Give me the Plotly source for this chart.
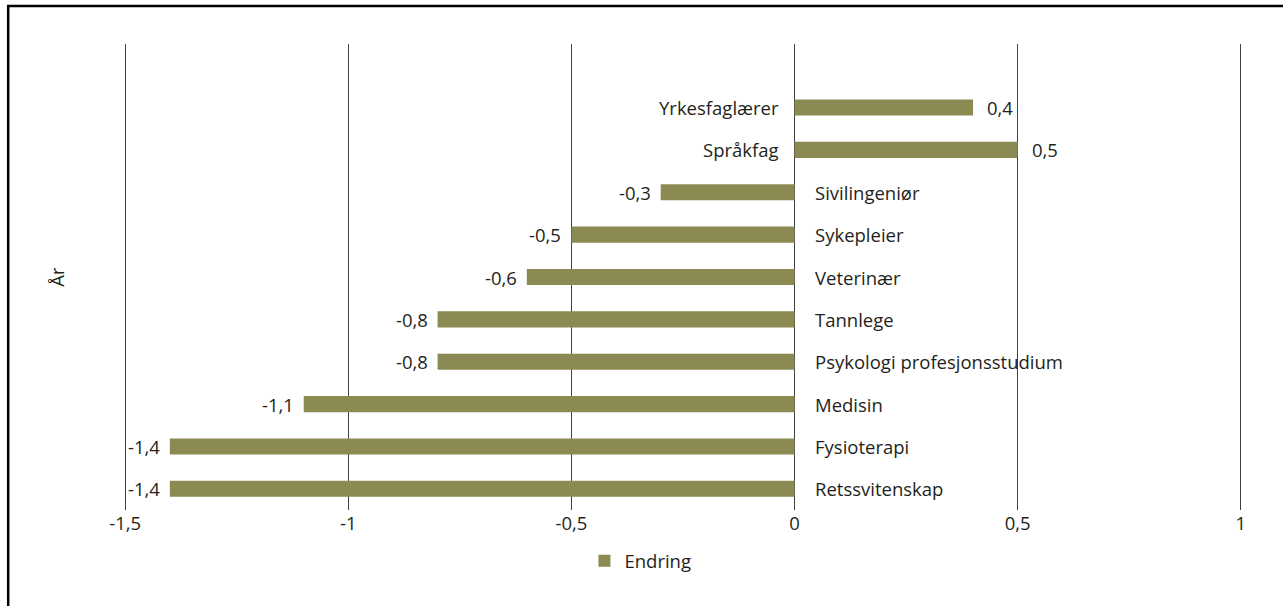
import plotly.graph_objects as go

# data, from bottom to top
kategorier = ['Retssvitenskap', 'Fysioterapi', 'Medisin', 'Psykologi profesjonsstudium',
              'Tannlege', 'Veterinær', 'Sykepleier', 'Sivilingeniør', 'Språkfag', 'Yrkesfaglærer']
endring = [-1.4, -1.4, -1.1, -0.8, -0.8, -0.6, -0.5, -0.3, 0.5, 0.4]
tick_vals = [-1.5, -1, -0.5, 0, 0.5, 1]
tick_text = ['-1,5', '-1', '-0,5', '0', '0,5', '1']

FONT = 'Open Sans'
FS = 18.5
TXT = '#231f20'
BAR = '#8b8a52'

ypos = list(range(len(kategorier)))

fig = go.Figure()
fig.add_trace(go.Bar(x=endring, y=ypos, orientation='h', name='Endring',
                     marker=dict(color=BAR, line=dict(width=0)), width=0.38))

# category names next to the zero line, value labels at bar ends
for yy, kat, v in zip(ypos, kategorier, endring):
    fig.add_annotation(x=0, y=yy, text=kat, showarrow=False,
                       xanchor='left' if v < 0 else 'right',
                       xshift=18 if v < 0 else -14,
                       font=dict(family=FONT, size=FS, color=TXT))
    fig.add_annotation(x=v, y=yy, text=str(v).replace('.', ','), showarrow=False,
                       xanchor='right' if v < 0 else 'left',
                       xshift=-8 if v < 0 else 12,
                       font=dict(family=FONT, size=FS, color=TXT))

fig.add_annotation(xref='paper', yref='paper', x=-0.06, y=0.5, text='År',
                   textangle=-90, showarrow=False, xanchor='center', yanchor='middle',
                   font=dict(family=FONT, size=FS, color=TXT))

# frame around the picture (open at right and bottom like the source)
fig.add_shape(type='rect', xref='paper', yref='paper',
              x0=-0.1025, x1=1.2, y0=-0.5, y1=1.0815,
              line=dict(color='black', width=2.5), fillcolor='rgba(0,0,0,0)')

fig.update_layout(
    width=1283, height=606,
    margin=dict(l=123, r=40, t=44, b=96),
    paper_bgcolor='white', plot_bgcolor='white',
    font=dict(family=FONT, size=FS, color=TXT),
    showlegend=True,
    legend=dict(orientation='h', x=0.462, xanchor='center', y=-0.11, yanchor='middle',
                font=dict(family=FONT, size=FS, color=TXT)),
    xaxis=dict(range=[-1.505, 1.005], tickvals=tick_vals, ticktext=tick_text,
               showgrid=True, gridcolor='#404040', gridwidth=1,
               zeroline=True, zerolinecolor='#404040', zerolinewidth=1,
               showline=False, ticks='', tickfont=dict(family=FONT, size=FS, color=TXT)),
    yaxis=dict(range=[-0.5, 10.5], showticklabels=False, showgrid=False,
               zeroline=False, showline=False, ticks=''),
)

fig.write_html('out.html', config={'displayModeBar': False},
               post_script="document.body.style.margin='0';")
